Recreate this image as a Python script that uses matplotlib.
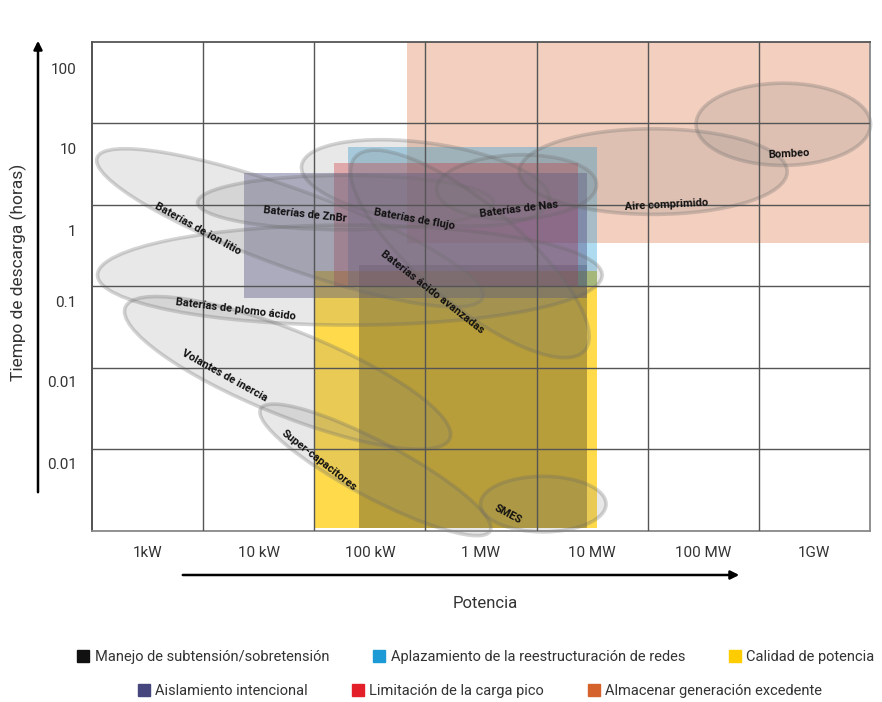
import matplotlib
matplotlib.use("Agg")
import matplotlib.pyplot as plt
from matplotlib.patches import Rectangle, Ellipse, FancyArrowPatch
from matplotlib.lines import Line2D
from matplotlib.transforms import Affine2D

plt.rcParams['font.family'] = ['Roboto', 'DejaVu Sans']

# axis categories (one grid column per decade of power, one row per decade of time)
power_labels = ['1kW', '10 kW', '100 kW', '1 MW', '10 MW', '100 MW', '1GW']
time_labels = ['100', '10', '1', '0.1', '0.01', '0.01']
time_label_pos = [5.67, 4.69, 3.69, 2.82, 1.84, 0.83]

# applications: coloured areas (x0, x1, y0, y1 in grid units)
apps = ['Manejo de subtensión/sobretensión',
        'Aplazamiento de la reestructuración de redes',
        'Calidad de potencia',
        'Aislamiento intencional',
        'Limitación de la carga pico',
        'Almacenar generación excedente']
app_colors = ['#111111', '#1b9ad6', '#ffcc00', '#46467f', '#e3202a', '#d4622a']
app_x0 = [2.40, 2.30, 2.00, 1.37, 2.18, 2.83]
app_x1 = [4.45, 4.54, 4.54, 4.45, 4.37, 7.00]
app_y0 = [0.04, 3.00, 0.04, 2.86, 3.00, 3.53]
app_y1 = [3.26, 4.71, 3.19, 4.39, 4.52, 6.00]
app_alpha = [0.30, 0.35, 0.70, 0.40, 0.35, 0.30]
draw_order = [2, 0, 5, 1, 4, 3]

# technologies: ellipses (centre, width, height, angle) in grid units
techs = ['Baterías de ion litio', 'Baterías de ZnBr', 'Baterías de flujo',
         'Baterías de Nas', 'Baterías ácido avanzadas', 'Baterías de plomo ácido',
         'Volantes de inercia', 'Super-capacitores', 'SMES',
         'Aire comprimido', 'Bombeo']
tech_cx = [1.78, 2.28, 3.00, 3.82, 3.40, 2.32, 1.76, 2.55, 4.06, 5.05, 6.22]
tech_cy = [3.72, 4.03, 4.27, 4.22, 3.40, 3.14, 1.94, 0.75, 0.33, 4.41, 4.99]
tech_w = [3.69, 2.66, 2.25, 1.44, 2.70, 4.54, 3.15, 2.34, 1.13, 2.41, 1.57]
tech_h = [0.70, 0.49, 0.72, 0.58, 0.90, 0.90, 0.76, 0.50, 0.50, 0.77, 0.74]
tech_ang = [-20, 0, -8, 2, -40, 0, -22, -28, 0, 0, 0]
# label placement
lab_x = [0.95, 1.92, 2.90, 3.84, 3.06, 1.29, 1.19, 2.04, 3.74, 5.17, 6.27]
lab_y = [3.71, 3.88, 3.82, 3.95, 2.93, 2.72, 1.90, 0.86, 0.20, 4.00, 4.63]
lab_rot = [-29, -6, -10, 7, -38, -7, -29, -38, -28, 3, 3]

fig = plt.figure(figsize=(8.82, 7.02), dpi=100)
ax_pos = [0.1043, 0.2436, 0.8821, 0.6966]
ax = fig.add_axes(ax_pos)
ax.set_xlim(0, 7)
ax.set_ylim(0, 6)

for i in draw_order:
    ax.add_patch(Rectangle((app_x0[i], app_y0[i]), app_x1[i] - app_x0[i],
                           app_y1[i] - app_y0[i], facecolor=app_colors[i],
                           alpha=app_alpha[i], lw=0, zorder=1))

# y units squeezed so that ellipse angles are true on screen
k = (ax_pos[3] * 702 / 6) / (ax_pos[2] * 882 / 7)
tr = Affine2D().scale(1, 1 / k) + ax.transData
for i in range(len(techs)):
    ax.add_patch(Ellipse((tech_cx[i], tech_cy[i] * k), tech_w[i], tech_h[i],
                         angle=tech_ang[i], transform=tr,
                         facecolor=(0.5, 0.5, 0.5, 0.18),
                         edgecolor=(0.4, 0.4, 0.4, 0.28), lw=2.6,
                         zorder=2, clip_on=False))
    ax.text(lab_x[i], lab_y[i], techs[i], rotation=lab_rot[i],
            rotation_mode='anchor', ha='center', va='center',
            fontsize=8, fontweight='bold', color='#111111', zorder=4)

for gx in range(1, 7):
    ax.axvline(gx, color='#555555', lw=1, zorder=3)
for gy in range(1, 6):
    ax.axhline(gy, color='#555555', lw=1, zorder=3)
for s in ax.spines.values():
    s.set_color('#888888')
    s.set_linewidth(1.3)
ax.spines['left'].set_color('#444444')
ax.spines['top'].set_color('#555555')

ax.set_xticks([i + 0.5 for i in range(len(power_labels))])
ax.set_xticklabels(power_labels, fontsize=11, color='#333333')
ax.set_yticks(time_label_pos)
ax.set_yticklabels(time_labels, fontsize=11, color='#333333')
ax.tick_params(length=0, pad=11)
ax.tick_params(axis='y', pad=11)

# axis arrows and titles
fig.add_artist(FancyArrowPatch(
    (38 / 882, 1 - 495 / 702), (38 / 882, 1 - 38 / 702), transform=fig.transFigure,
    arrowstyle='-|>,head_length=5,head_width=2.5', color='black', lw=1.8,
    mutation_scale=1))
fig.add_artist(FancyArrowPatch(
    (180 / 882, 1 - 575 / 702), (742 / 882, 1 - 575 / 702), transform=fig.transFigure,
    arrowstyle='-|>,head_length=5,head_width=2.5', color='black', lw=1.8,
    mutation_scale=1))
fig.text(485 / 882, 1 - 603 / 702, 'Potencia', ha='center', va='center',
         fontsize=12, color='#333333')
fig.text(18 / 882, 1 - 272 / 702, 'Tiempo de descarga (horas)', rotation=90,
         ha='center', va='center', fontsize=12.5, color='#333333')

handles = [Line2D([], [], marker='s', ls='', markersize=8, color=c) for c in app_colors]
leg1 = fig.legend(handles[:3], apps[:3], loc='center', ncol=3,
                  bbox_to_anchor=(476 / 882, 1 - 657 / 702), frameon=False,
                  handletextpad=0.4, columnspacing=3.0,
                  handlelength=0.8, prop={'size': 10.5})
leg2 = fig.legend(handles[3:], apps[3:], loc='center', ncol=3,
                  bbox_to_anchor=(480 / 882, 1 - 691 / 702), frameon=False,
                  handletextpad=0.4, columnspacing=3.0,
                  handlelength=0.8, prop={'size': 10.5})
for leg in (leg1, leg2):
    for t in leg.get_texts():
        t.set_color('#333333')

fig.savefig('out.png', dpi=100)
